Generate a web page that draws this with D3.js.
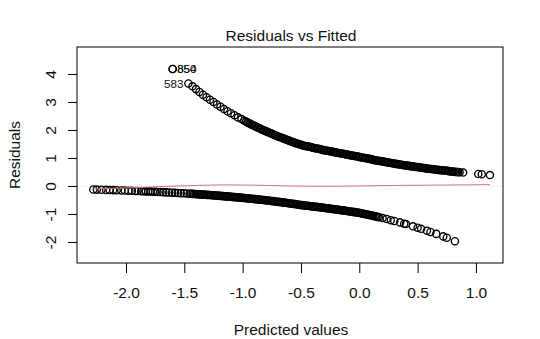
<!DOCTYPE html>
<html>
<head>
<meta charset="utf-8">
<script src="https://cdn.jsdelivr.net/npm/d3@7"></script>
<style>
  html, body { margin: 0; padding: 0; background: #fff; }
  svg { display: block; }
  text { font-family: "Liberation Sans", Arial, Helvetica, sans-serif; fill: #111; }
</style>
</head>
<body>
<svg id="chart" width="540" height="339"></svg>
<script>
// ---------- data ----------
// upper branch
const upperX = [-1.60, -1.60, -1.465, -1.43, -1.40, -1.37, -1.34, -1.31, -1.28, -1.25, -1.22, -1.19, -1.16, -1.13, -1.10, -1.07, -1.04, -1.01,
  -0.985, -0.96, -0.94, -0.915, -0.89, -0.865, -0.84, -0.815, -0.79, -0.765, -0.74, -0.715, -0.69, -0.665, -0.64, -0.615, -0.59, -0.565, -0.54, -0.515,
  -0.49, -0.465, -0.44, -0.415, -0.39, -0.365, -0.34, -0.315, -0.29, -0.265, -0.24, -0.215, -0.19, -0.165, -0.14, -0.115, -0.09, -0.065, -0.04, -0.015,
  0.01, 0.035, 0.06, 0.085, 0.11, 0.135, 0.16, 0.185, 0.21, 0.235, 0.26, 0.285, 0.31, 0.335, 0.36, 0.385, 0.41, 0.435, 0.46, 0.485, 0.51, 0.535,
  0.56, 0.585, 0.61, 0.635, 0.66, 0.685, 0.71, 0.735, 0.76, 0.785, 0.81, 0.835, 0.86, 0.89, 1.02, 1.05, 1.12];
const upperY = [4.18, 4.18, 3.66, 3.56, 3.46, 3.36, 3.26, 3.17, 3.08, 3.00, 2.91, 2.83, 2.75, 2.67, 2.60, 2.53, 2.45, 2.39,
  2.33, 2.28, 2.23, 2.18, 2.13, 2.08, 2.03, 1.98, 1.94, 1.89, 1.85, 1.80, 1.76, 1.72, 1.68, 1.64, 1.60, 1.56, 1.53, 1.49,
  1.46, 1.43, 1.41, 1.39, 1.36, 1.34, 1.32, 1.29, 1.27, 1.25, 1.23, 1.21, 1.19, 1.17, 1.15, 1.13, 1.11, 1.09, 1.07, 1.05,
  1.03, 1.01, 0.99, 0.97, 0.95, 0.92, 0.90, 0.89, 0.87, 0.85, 0.83, 0.81, 0.79, 0.78, 0.76, 0.74, 0.73, 0.71, 0.70, 0.68, 0.67, 0.65,
  0.64, 0.62, 0.61, 0.60, 0.58, 0.57, 0.56, 0.55, 0.54, 0.52, 0.51, 0.50, 0.49, 0.48, 0.43, 0.42, 0.39];
// further points in the solid part of the upper band
const upperDenseX = [-0.972, -0.95, -0.927, -0.902, -0.877, -0.852, -0.827, -0.802, -0.777, -0.752, -0.727, -0.702, -0.677, -0.652, -0.627, -0.602,
  -0.577, -0.552, -0.527, -0.502, -0.477, -0.452, -0.427, -0.402, -0.377, -0.352, -0.327, -0.302, -0.277, -0.252, -0.227, -0.202, -0.177, -0.152,
  -0.127, -0.102, -0.077, -0.052, -0.027, -0.002, 0.022, 0.047, 0.072, 0.097, 0.122, 0.147, 0.172, 0.197, 0.222, 0.247, 0.272, 0.297, 0.322,
  0.347, 0.372, 0.397, 0.422, 0.447, 0.472, 0.497, 0.522, 0.547, 0.572, 0.597, 0.622, 0.647, 0.672, 0.697, 0.722, 0.747, 0.772, 0.797, 0.822, 0.847];
const upperDenseY = [2.30, 2.25, 2.20, 2.15, 2.10, 2.05, 2.00, 1.96, 1.91, 1.87, 1.82, 1.78, 1.74, 1.70, 1.66, 1.62,
  1.58, 1.54, 1.51, 1.47, 1.44, 1.42, 1.40, 1.37, 1.35, 1.33, 1.30, 1.28, 1.26, 1.24, 1.22, 1.20, 1.18, 1.16,
  1.14, 1.12, 1.10, 1.08, 1.06, 1.04, 1.02, 1.00, 0.98, 0.96, 0.93, 0.91, 0.895, 0.88, 0.86, 0.84, 0.82, 0.80, 0.785,
  0.77, 0.75, 0.735, 0.72, 0.705, 0.69, 0.675, 0.66, 0.645, 0.63, 0.615, 0.605, 0.59, 0.575, 0.565, 0.555, 0.545, 0.53, 0.515, 0.505, 0.495];

// lower branch
const lowerX = [-2.28, -2.25, -2.21, -2.17, -2.14, -2.11, -2.08, -2.04, -2.01, -1.98, -1.95, -1.92, -1.90, -1.87, -1.85, -1.83, -1.81, -1.79, -1.77, -1.75,
  -1.73, -1.705, -1.68, -1.655, -1.63, -1.605, -1.58, -1.555, -1.53, -1.505, -1.48, -1.455, -1.43, -1.405, -1.38, -1.355, -1.33, -1.305, -1.28, -1.255,
  -1.23, -1.205, -1.18, -1.155, -1.13, -1.105, -1.08, -1.055, -1.03, -1.005, -0.98, -0.955, -0.93, -0.905, -0.88, -0.855, -0.83, -0.805, -0.78, -0.755,
  -0.73, -0.705, -0.68, -0.655, -0.63, -0.605, -0.58, -0.555, -0.53, -0.505, -0.48, -0.455, -0.43, -0.405, -0.38, -0.355, -0.33, -0.305, -0.28, -0.255,
  -0.23, -0.205, -0.18, -0.155, -0.13, -0.105, -0.08, -0.055, -0.03, -0.005, 0.02, 0.045, 0.07, 0.095, 0.12, 0.145, 0.17,
  0.20, 0.235, 0.27, 0.30, 0.35, 0.385, 0.40, 0.46, 0.50, 0.53, 0.58, 0.61, 0.66, 0.72, 0.75, 0.82];
const lowerY = [-0.125, -0.129, -0.134, -0.139, -0.143, -0.147, -0.152, -0.158, -0.162, -0.167, -0.172, -0.177, -0.180, -0.185, -0.189, -0.192, -0.196, -0.200, -0.204, -0.208,
  -0.212, -0.217, -0.222, -0.227, -0.233, -0.238, -0.244, -0.250, -0.256, -0.262, -0.268, -0.275, -0.281, -0.288, -0.295, -0.302, -0.309, -0.317, -0.324, -0.332,
  -0.340, -0.348, -0.357, -0.365, -0.374, -0.383, -0.392, -0.402, -0.411, -0.421, -0.431, -0.442, -0.452, -0.463, -0.474, -0.486, -0.497, -0.509, -0.521, -0.534,
  -0.547, -0.560, -0.573, -0.587, -0.601, -0.616, -0.631, -0.646, -0.661, -0.677, -0.690, -0.702, -0.714, -0.727, -0.739, -0.752, -0.765, -0.778, -0.792, -0.806,
  -0.820, -0.834, -0.849, -0.863, -0.878, -0.894, -0.909, -0.925, -0.941, -0.957, -0.978, -0.999, -1.022, -1.044, -1.067, -1.091, -1.115,
  -1.145, -1.18, -1.22, -1.25, -1.30, -1.35, -1.36, -1.44, -1.49, -1.53, -1.60, -1.64, -1.71, -1.80, -1.85, -1.97];
// further points in the solid part of the lower band
const lowerDenseX = [-1.442, -1.417, -1.392, -1.367, -1.342, -1.317, -1.292, -1.267, -1.242, -1.217, -1.192, -1.167, -1.142, -1.117, -1.092, -1.067,
  -1.042, -1.017, -0.992, -0.967, -0.942, -0.917, -0.892, -0.867, -0.842, -0.817, -0.792, -0.767, -0.742, -0.717, -0.692, -0.667, -0.642, -0.617,
  -0.592, -0.567, -0.542, -0.517, -0.492, -0.467, -0.442, -0.417, -0.392, -0.367, -0.342, -0.317, -0.292, -0.267, -0.242, -0.217, -0.192, -0.167,
  -0.142, -0.117, -0.092, -0.067, -0.042, -0.017, 0.007, 0.032, 0.057, 0.082, 0.107, 0.132, 0.157];
const lowerDenseY = [-0.278, -0.285, -0.292, -0.299, -0.306, -0.313, -0.321, -0.328, -0.336, -0.344, -0.353, -0.361, -0.370, -0.379, -0.388, -0.397,
  -0.407, -0.416, -0.426, -0.437, -0.447, -0.458, -0.469, -0.480, -0.492, -0.503, -0.515, -0.528, -0.541, -0.554, -0.567, -0.580, -0.594, -0.609,
  -0.624, -0.639, -0.654, -0.669, -0.684, -0.696, -0.708, -0.721, -0.733, -0.746, -0.759, -0.772, -0.785, -0.799, -0.813, -0.827, -0.842, -0.856,
  -0.871, -0.886, -0.902, -0.917, -0.933, -0.949, -0.967, -0.988, -1.010, -1.033, -1.055, -1.079, -1.103];

// smoother
const smoothX = [-2.28, -2.0, -1.7, -1.4, -1.15, -0.9, -0.6, -0.3, 0.0, 0.3, 0.6, 0.9, 1.12];
const smoothY = [-0.10, -0.07, -0.02, 0.02, 0.04, 0.03, 0.0, -0.01, 0.0, 0.02, 0.03, 0.04, 0.05];

// labelled observations
const idX = [-1.60, -1.60, -1.465];
const idY = [4.18, 4.18, 3.66];
const idLabels = ["854", "850", "583"];
const idSide = ["right", "right", "left"];

const xTicks = [-2.0, -1.5, -1.0, -0.5, 0.0, 0.5, 1.0];
const xTickLabels = ["-2.0", "-1.5", "-1.0", "-0.5", "0.0", "0.5", "1.0"];
const yTicks = [-2, -1, 0, 1, 2, 3, 4];
const yTickLabels = ["-2", "-1", "0", "1", "2", "3", "4"];

const titleText = "Residuals vs Fitted";
const xLabel = "Predicted values";
const yLabel = "Residuals";

// ---------- layout ----------
const svg = d3.select("#chart");
const plot = { left: 77, right: 503, top: 47, bottom: 263 };
const x = d3.scaleLinear().domain([-2.42, 1.232]).range([plot.left, plot.right]);
const y = d3.scaleLinear().domain([-2.75, 4.964]).range([plot.bottom, plot.top]);
const fontSize = 15.5;

// reference line at 0 (grey dotted)
svg.append("line")
  .attr("x1", plot.left).attr("x2", plot.right)
  .attr("y1", y(0)).attr("y2", y(0))
  .attr("stroke", "#d0d0d0").attr("stroke-width", 1)
  .attr("stroke-dasharray", "1,3");

// points
const zip = (a, b) => a.map((d, i) => [d, b[i]]);
const pts = zip(upperX, upperY).concat(zip(upperDenseX, upperDenseY), zip(lowerX, lowerY), zip(lowerDenseX, lowerDenseY));
svg.append("g").selectAll("circle").data(pts).join("circle")
  .attr("cx", d => x(d[0])).attr("cy", d => y(d[1]))
  .attr("r", 3.6)
  .attr("fill", "none").attr("stroke", "#000").attr("stroke-width", 1.35);

// smoother (red)
const line = d3.line().curve(d3.curveMonotoneX).x(d => x(d[0])).y(d => y(d[1]));
svg.append("path")
  .datum(zip(smoothX, smoothY))
  .attr("d", line)
  .attr("fill", "none").attr("stroke", "#d9707a").attr("stroke-width", 1);

// point id labels
svg.append("g").selectAll("text").data(idLabels).join("text")
  .attr("x", (d, i) => idSide[i] === "right" ? x(idX[i]) + 4.5 : x(idX[i]) - 5)
  .attr("y", (d, i) => y(idY[i]) + 4)
  .attr("text-anchor", (d, i) => idSide[i] === "right" ? "start" : "end")
  .attr("font-size", 11.6)
  .text(d => d);

// box
svg.append("rect")
  .attr("x", plot.left).attr("y", plot.top)
  .attr("width", plot.right - plot.left).attr("height", plot.bottom - plot.top)
  .attr("fill", "none").attr("stroke", "#000").attr("stroke-width", 1);

// x axis
const xAxis = d3.axisBottom(x).tickValues(xTicks).tickSize(10).tickPadding(14)
  .tickFormat((d, i) => xTickLabels[i]);
const gx = svg.append("g").attr("transform", `translate(0,${plot.bottom})`).call(xAxis);
gx.select(".domain").remove();
gx.selectAll(".tick line").attr("stroke", "#000");
gx.selectAll(".tick text").attr("font-size", fontSize).attr("fill", "#111")
  .attr("font-family", '"Liberation Sans", Arial, sans-serif');

// y axis
const yAxis = d3.axisLeft(y).tickValues(yTicks).tickSize(9).tickPadding(0)
  .tickFormat((d, i) => yTickLabels[i]);
const gy = svg.append("g").attr("transform", `translate(${plot.left},0)`).call(yAxis);
gy.select(".domain").remove();
gy.selectAll(".tick line").attr("stroke", "#000");
gy.selectAll(".tick text")
  .attr("font-size", fontSize).attr("fill", "#111")
  .attr("font-family", '"Liberation Sans", Arial, sans-serif')
  .attr("x", null).attr("dy", null)
  .attr("text-anchor", "middle")
  .attr("transform", "translate(-21,0) rotate(-90)");

// titles
svg.append("text")
  .attr("x", (plot.left + plot.right) / 2 + 1).attr("y", 41)
  .attr("text-anchor", "middle").attr("font-size", fontSize)
  .text(titleText);
svg.append("text")
  .attr("x", (plot.left + plot.right) / 2 + 1).attr("y", 335)
  .attr("text-anchor", "middle").attr("font-size", fontSize)
  .text(xLabel);
svg.append("text")
  .attr("transform", `translate(20,${(plot.top + plot.bottom) / 2}) rotate(-90)`)
  .attr("text-anchor", "middle").attr("font-size", fontSize)
  .text(yLabel);
</script>
</body>
</html>
